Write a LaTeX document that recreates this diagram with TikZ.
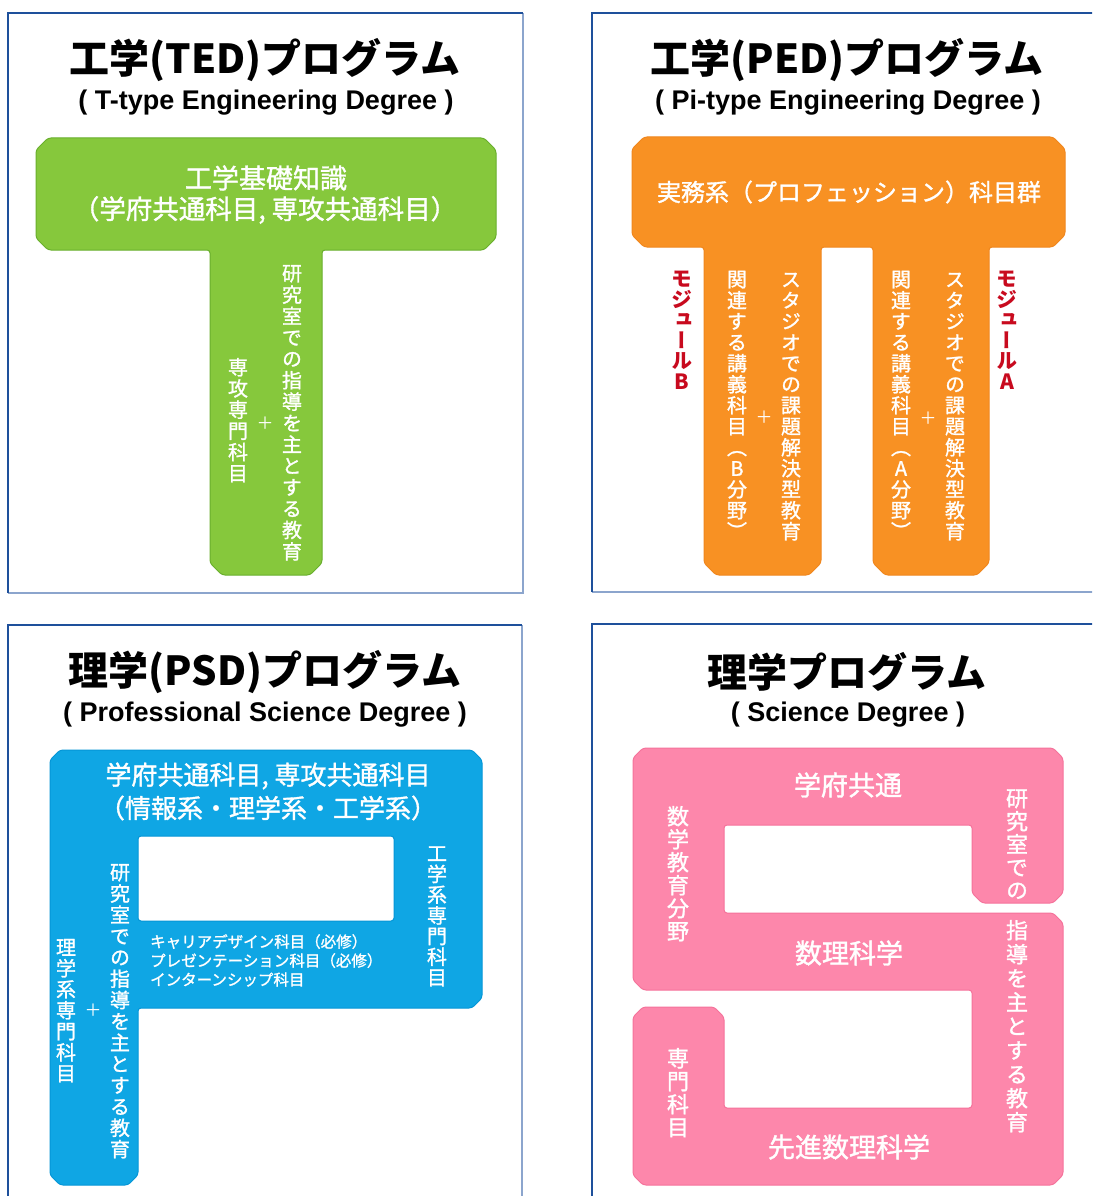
\documentclass[tikz,border=0pt]{standalone}
\usepackage{fontspec}
\setmainfont{Liberation Sans}
\newfontfamily\jp{Noto Sans CJK JP}
\newfontfamily\jpm{Noto Sans CJK JP}[FakeBold=1.3]
\newfontfamily\jpv{Noto Sans CJK JP}[RawFeature=+vert]
\newfontfamily\jpvm{Noto Sans CJK JP}[RawFeature=+vert,FakeBold=1.3]
\newfontfamily\en{Liberation Sans}
\definecolor{frameD}{RGB}{30,80,155}
\definecolor{frameL}{RGB}{140,165,205}
\definecolor{gfill}{RGB}{134,200,60}
\definecolor{gedge}{RGB}{105,175,45}
\definecolor{ofill}{RGB}{248,145,35}
\definecolor{oedge}{RGB}{240,135,30}
\definecolor{bfill}{RGB}{15,166,228}
\definecolor{bedge}{RGB}{5,150,215}
\definecolor{pfill}{RGB}{253,135,171}
\definecolor{pedge}{RGB}{245,115,155}
\definecolor{modred}{RGB}{200,10,30}
\makeatletter
\def\vt@end{\vt@end@}
\newcommand\vtext[2]{\vbox{\offinterlineskip\def\vt@p{#1}\vt@loop#2\vt@end}}
\def\vt@loop#1{\ifx#1\vt@end\else\hbox to 1em{\vrule height .88em depth .12em width 0pt\hss#1\hss}\vskip\dimexpr\vt@p-1em\relax\expandafter\vt@loop\fi}
\makeatother
\tikzset{
  ttl/.style={inner sep=0, font=\jp\bfseries\fontsize{40}{44}\selectfont},
  sub/.style={inner sep=0, font=\en\bfseries\fontsize{27}{30}\selectfont},
  wh/.style={inner sep=0, text=white},
  vt/.style={inner sep=0, anchor=north, text=white},
  plus/.style={inner sep=0, text=white, font=\jp\fontsize{17}{20}\selectfont},
  frD/.style={draw=frameD, line width=2pt},
  frL/.style={draw=frameL, line width=2pt},
  blob/.style={rounded corners=3pt, line width=1pt}
}
\begin{document}
\begin{tikzpicture}[x=1pt,y=-1pt]
\useasboundingbox (0,0) rectangle (1092,1196);
\clip (0,0) rectangle (1092,1196);
\fill[white] (0,0) rectangle (1092,1196);
% frames
\draw[frL] (523,13) -- (523,593) -- (8,593);
\draw[frD] (8,593) -- (8,13) -- (523,13);
\draw[frL] (1100,592) -- (592,592);
\draw[frD] (592,592) -- (592,13) -- (1100,13);
\draw[frL] (522,625) -- (522,1200);
\draw[frD] (8,1200) -- (8,625) -- (522,625);
\draw[frD] (592,1200) -- (592,624) -- (1100,624);

% ===== TED (T shape)
\def\cc{12}
\filldraw[blob, fill=gfill, draw=gedge]
 (36+\cc,138) -- (496-\cc,138) -- (496,138+\cc) -- (496,250-\cc) -- (496-\cc,250)
 -- (322,250) -- (322,575-\cc) -- (322-\cc,575) -- (210+\cc,575) -- (210,575-\cc)
 -- (210,250) -- (36+\cc,250) -- (36,250-\cc) -- (36,138+\cc) -- cycle;
\node[ttl] (tedT) at (265,60) {工学(TED)プログラム};
\node[sub] (tedS) at (266,103) {( T-type Engineering Degree )};
\node[wh, font=\jpm\fontsize{27}{30}\selectfont] (tedA) at (266,178) {工学基礎知識};
\node[wh, font=\jpm\fontsize{26.5}{30}\selectfont] (tedB) at (265,210) {（学府共通科目, 専攻共通科目）};
\node[vt, font=\jpvm\fontsize{20}{24}\selectfont] (tedR) at (292,263) {\vtext{21.4pt}{研究室での指導を主とする教育}};
\node[vt, font=\jpvm\fontsize{20}{24}\selectfont] (tedL) at (238,357) {\vtext{21.2pt}{専攻専門科目}};
\node[plus] (tedP) at (265,423) {＋};

% ===== PED (Pi shape)
\def\cc{12}
\filldraw[blob, fill=ofill, draw=oedge]
 (632+\cc,137) -- (1065-\cc,137) -- (1065,137+\cc) -- (1065,247-\cc) -- (1065-\cc,247)
 -- (989,247) -- (989,575-\cc) -- (989-\cc,575) -- (873+\cc,575) -- (873,575-\cc)
 -- (873,247) -- (821,247) -- (821,575-\cc) -- (821-\cc,575) -- (704+\cc,575)
 -- (704,575-\cc) -- (704,247) -- (632+\cc,247) -- (632,247-\cc) -- (632,137+\cc) -- cycle;
\node[ttl] (pedT) at (847,60) {工学(PED)プログラム};
\node[sub] (pedS) at (848,103) {( Pi-type Engineering Degree )};
\node[wh, font=\jpm\fontsize{24}{28}\selectfont] (pedA) at (849,192) {実務系（プロフェッション）科目群};
\node[vt, font=\jpvm\fontsize{20}{24}\selectfont] (pedB1) at (737,269) {\vtext{21pt}{関連する講義科目（B分野）}};
\node[vt, font=\jpvm\fontsize{20}{24}\selectfont] (pedB2) at (791,269) {\vtext{21pt}{スタジオでの課題解決型教育}};
\node[plus] (pedBP) at (764,417) {＋};
\node[vt, font=\jpvm\fontsize{20}{24}\selectfont] (pedA1) at (901,269) {\vtext{21pt}{関連する講義科目（A分野）}};
\node[vt, font=\jpvm\fontsize{20}{24}\selectfont] (pedA2) at (955,269) {\vtext{21pt}{スタジオでの課題解決型教育}};
\node[plus] (pedAP) at (928,418) {＋};
\node[vt, text=modred, font=\jpv\bfseries\fontsize{21}{24}\selectfont] (modB) at (682,268) {\vtext{20.5pt}{モジュールB}};
\node[vt, text=modred, font=\jpv\bfseries\fontsize{21}{24}\selectfont] (modA) at (1007,268) {\vtext{20.5pt}{モジュールA}};

% ===== PSD (P shape)
\def\cc{10}
\filldraw[blob, fill=bfill, draw=bedge, even odd rule]
 (50+\cc,750) -- (482-\cc,750) -- (482,750+\cc) -- (482,1008-\cc) -- (482-\cc,1008)
 -- (138,1008) -- (138,1185-\cc) -- (138-\cc,1185) -- (50+\cc,1185) -- (50,1185-\cc)
 -- (50,750+\cc) -- cycle
 (138,836) -- (394,836) -- (394,921) -- (138,921) -- cycle;
\node[ttl] (psdT) at (265,672) {理学(PSD)プログラム};
\node[sub] (psdS) at (265,715) {( Professional Science Degree )};
\node[wh, font=\jpm\fontsize{26}{29}\selectfont] (psdA) at (268,776) {学府共通科目, 専攻共通科目};
\node[wh, font=\jpm\fontsize{26}{29}\selectfont] (psdB) at (268,808) {（情報系・理学系・工学系）};
\node[vt, font=\jpvm\fontsize{20}{24}\selectfont] (psdR) at (437,843) {\vtext{20.7pt}{工学系専門科目}};
\node[vt, font=\jpvm\fontsize{20}{24}\selectfont] (psdM) at (120,862) {\vtext{21.3pt}{研究室での指導を主とする教育}};
\node[vt, font=\jpvm\fontsize{20}{24}\selectfont] (psdL) at (66,937) {\vtext{21pt}{理学系専門科目}};
\node[plus] (psdP) at (93,1010) {＋};
\node[wh, anchor=north west, align=left, font=\jpm\fontsize{15.5}{19}\selectfont] (psdList) at (150,934)
 {キャリアデザイン科目（必修）\\プレゼンテーション科目（必修）\\インターンシップ科目};

% ===== Science (S shape)
\def\cc{10}
\filldraw[blob, fill=pfill, draw=pedge]
 (633,748+\cc) -- (633+\cc,748) -- (1063-\cc,748) -- (1063,748+\cc)
 -- (1063,903-\cc) -- (1063-\cc,903) -- (972+\cc,903) -- (972,903-\cc)
 -- (972,825) -- (724,825) -- (724,913)
 -- (1063-\cc,913) -- (1063,913+\cc) -- (1063,1185-\cc) -- (1063-\cc,1185)
 -- (633+\cc,1185) -- (633,1185-\cc) -- (633,1007+\cc) -- (633+\cc,1007)
 -- (724-\cc,1007) -- (724,1007+\cc) -- (724,1108) -- (972,1108) -- (972,990)
 -- (633+\cc,990) -- (633,990-\cc) -- cycle;
\node[ttl] (sdT) at (847,672) {理学プログラム};
\node[sub] (sdS) at (848,715) {( Science Degree )};
\node[wh, font=\jpm\fontsize{27}{30}\selectfont] (sdA) at (848,785) {学府共通};
\node[wh, font=\jpm\fontsize{27}{30}\selectfont] (sdB) at (849,953) {数理科学};
\node[wh, font=\jpm\fontsize{27}{30}\selectfont] (sdC) at (849,1147) {先進数理科学};
\node[vt, font=\jpvm\fontsize{22}{26}\selectfont] (sdL1) at (678,805) {\vtext{23pt}{数学教育分野}};
\node[vt, font=\jpvm\fontsize{22}{26}\selectfont] (sdL2) at (678,1047) {\vtext{23pt}{専門科目}};
\node[vt, font=\jpvm\fontsize{22}{26}\selectfont] (sdR1) at (1017,787) {\vtext{23pt}{研究室での}};
\node[vt, font=\jpvm\fontsize{22}{26}\selectfont] (sdR2) at (1017,919) {\vtext{24pt}{指導を主とする教育}};
\end{tikzpicture}
\end{document}
